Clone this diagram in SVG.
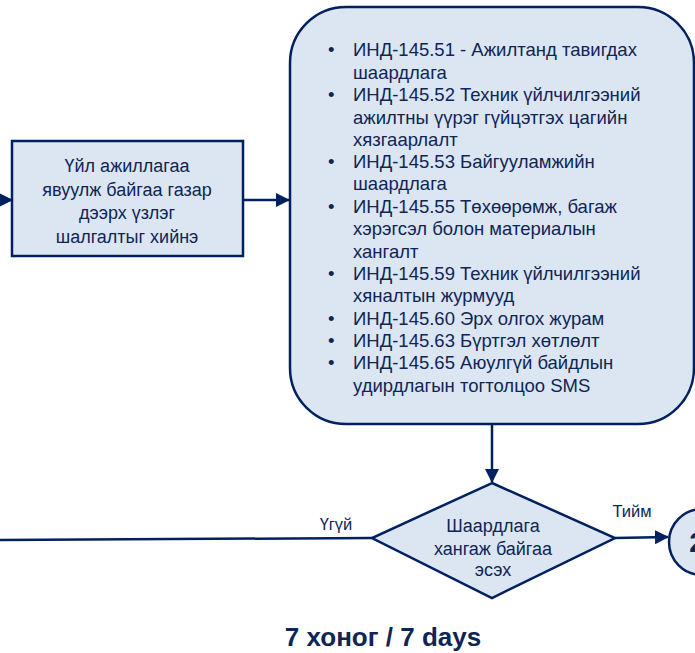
<svg xmlns="http://www.w3.org/2000/svg" width="695" height="653" viewBox="0 0 695 653">
<style>
.box{fill:#DCE6F2;stroke:#002060;stroke-width:2.5}
.ln{fill:none;stroke:#002060;stroke-width:2.5}
.t{font-family:"Liberation Sans",Arial,sans-serif;fill:#0F2556}
.c{text-anchor:middle}
</style>
<defs>
<marker id="ahv" markerWidth="14" markerHeight="14" refX="13" refY="7" orient="auto" markerUnits="userSpaceOnUse" viewBox="0 0 14 14">
<path d="M0,0 L14,7 L0,14 Z" fill="#002060"/>
</marker>
</defs>
<rect width="695" height="653" fill="#FFFFFF"/>
<g id="connectors">
<line class="ln" x1="0" y1="200" x2="12" y2="200" marker-end="url(#ahv)"/>
<line class="ln" x1="243" y1="200" x2="289" y2="200" marker-end="url(#ahv)"/>
<line class="ln" x1="492" y1="424" x2="492" y2="482" marker-end="url(#ahv)"/>
<line class="ln" x1="372" y1="538" x2="0" y2="540"/>
<line class="ln" x1="615" y1="538" x2="668" y2="537" marker-end="url(#ahv)"/>
<text class="t" x="336" y="530" font-size="16.5" text-anchor="middle">Үгүй</text>
<text class="t" x="632" y="517" font-size="16.5" text-anchor="middle">Тийм</text>
</g>
<g id="inspect">
<rect class="box" x="12" y="141" width="231" height="115"/>
<text class="t c" font-size="18"><tspan x="127" y="172">Үйл ажиллагаа</tspan><tspan x="127" y="195.5">явуулж байгаа газар</tspan><tspan x="127" y="219">дээрх үзлэг</tspan><tspan x="127" y="242.5">шалгалтыг хийнэ</tspan></text>
</g>
<g id="requirements">
<rect class="box" x="290" y="7" width="404" height="417" rx="56" ry="56"/>
<g class="t" font-size="18.5">
<text x="328" y="56">•</text><text x="353" y="56">ИНД-145.51 - Ажилтанд тавигдах</text>
<text x="353" y="79">шаардлага</text>
<text x="328" y="101">•</text><text x="353" y="101">ИНД-145.52 Техник үйлчилгээний</text>
<text x="353" y="124">ажилтны үүрэг гүйцэтгэх цагийн</text>
<text x="353" y="146">хязгаарлалт</text>
<text x="328" y="168">•</text><text x="353" y="168">ИНД-145.53 Байгууламжийн</text>
<text x="353" y="190">шаардлага</text>
<text x="328" y="213">•</text><text x="353" y="213">ИНД-145.55 Төхөөрөмж, багаж</text>
<text x="353" y="235">хэрэгсэл болон материалын</text>
<text x="353" y="258">хангалт</text>
<text x="328" y="280">•</text><text x="353" y="280">ИНД-145.59 Техник үйлчилгээний</text>
<text x="353" y="302">хяналтын журмууд</text>
<text x="328" y="325">•</text><text x="353" y="325">ИНД-145.60 Эрх олгох журам</text>
<text x="328" y="347">•</text><text x="353" y="347">ИНД-145.63 Бүртгэл хөтлөлт</text>
<text x="328" y="369">•</text><text x="353" y="369">ИНД-145.65 Аюулгүй байдлын</text>
<text x="353" y="392">удирдлагын тогтолцоо SMS</text>
</g>
</g>
<g id="decision">
<polygon class="box" points="492,483 615,538 492,598 372,538"/>
<text class="t c" font-size="18"><tspan x="493" y="532">Шаардлага</tspan><tspan x="493" y="555">хангаж байгаа</tspan><tspan x="493" y="576">эсэх</tspan></text>
</g>
<g id="step2">
<circle class="box" cx="702" cy="542" r="33"/>
<text class="t c" x="697" y="552" font-size="28" font-weight="bold">2</text>
</g>
<g id="title">
<text class="t c" x="383" y="646" font-size="26" font-weight="bold">7 хоног / 7 days</text>
</g>
</svg>
